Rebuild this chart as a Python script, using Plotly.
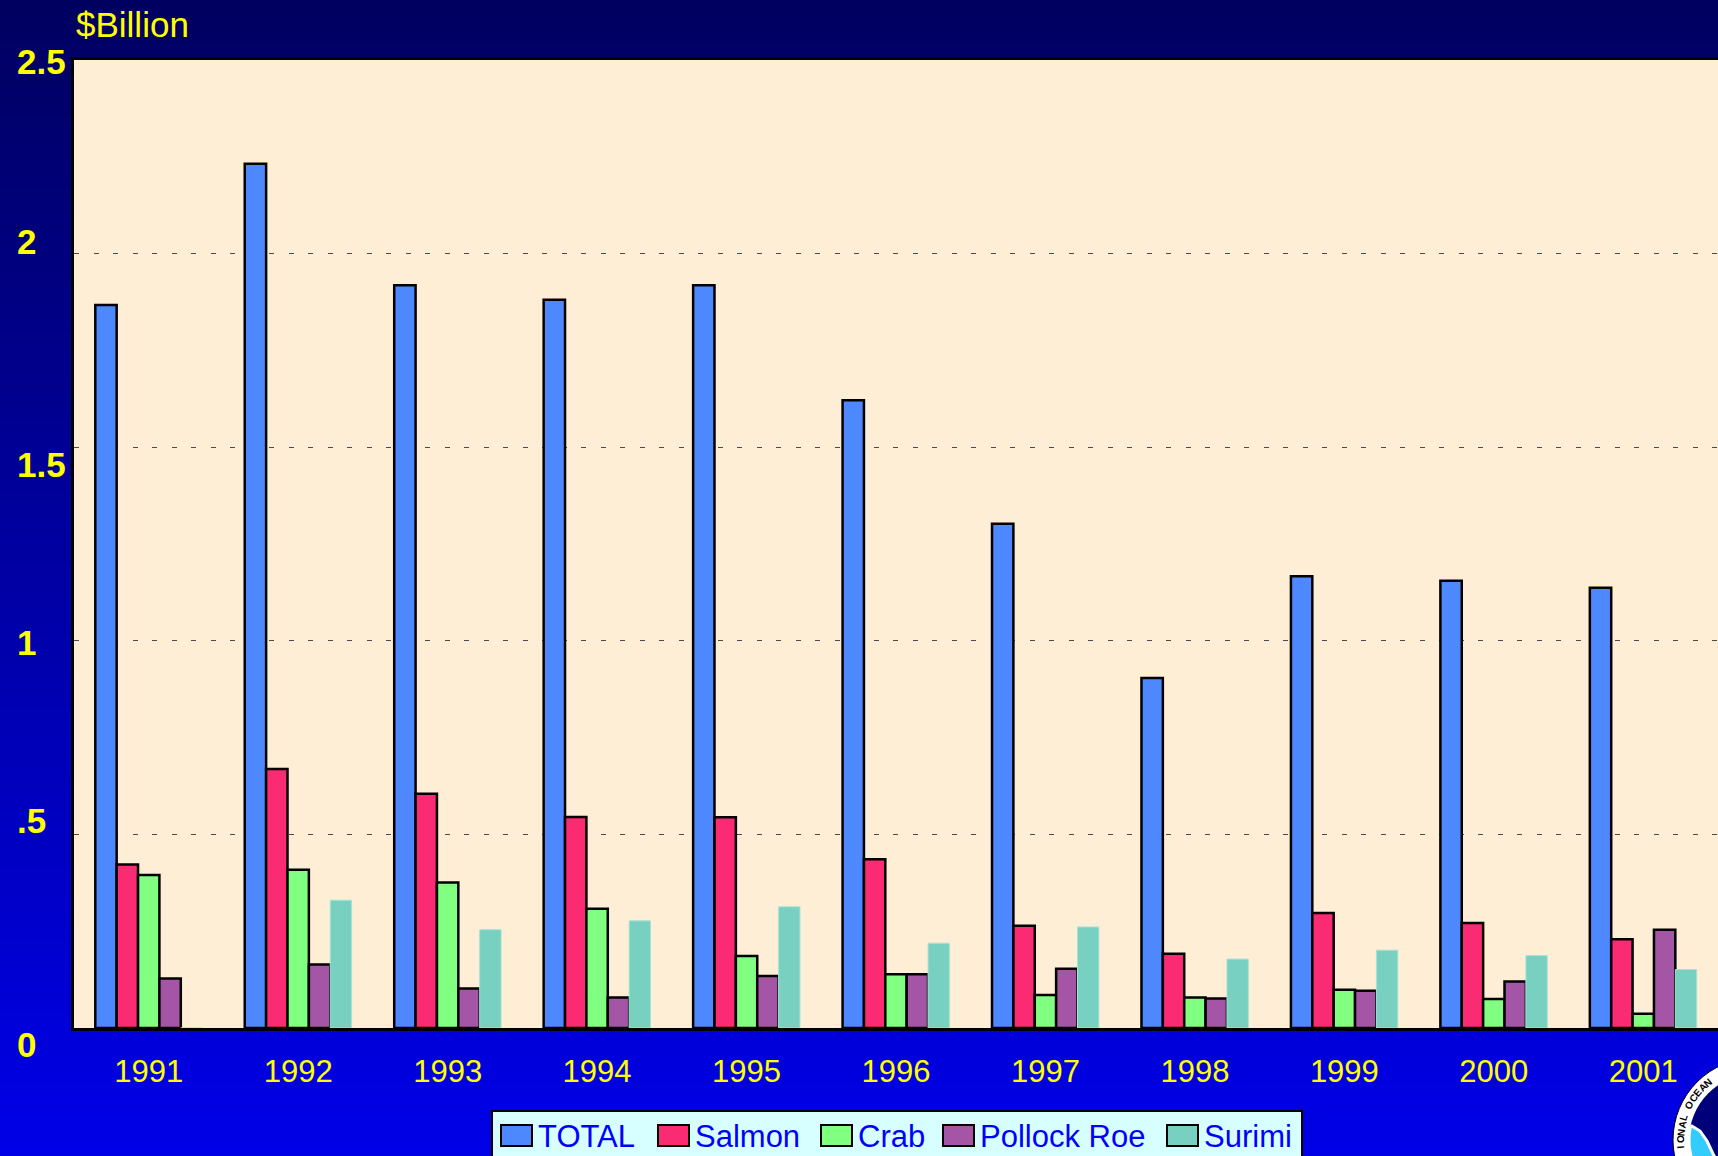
import math
import plotly.graph_objects as go

# ---------------- data ----------------
years = ["1991", "1992", "1993", "1994", "1995", "1996", "1997", "1998", "1999", "2000", "2001"]
series_names = ["TOTAL", "Salmon", "Crab", "Pollock Roe", "Surimi"]
total = [1.867, 2.232, 1.918, 1.881, 1.918, 1.621, 1.302, 0.904, 1.167, 1.155, 1.137]
salmon = [0.422, 0.669, 0.605, 0.545, 0.544, 0.436, 0.264, 0.192, 0.297, 0.271, 0.229]
crab = [0.395, 0.409, 0.376, 0.308, 0.186, 0.139, 0.085, 0.079, 0.099, 0.075, 0.037]
pollock_roe = [0.128, 0.164, 0.102, 0.079, 0.134, 0.139, 0.153, 0.076, 0.096, 0.120, 0.254]
surimi = [0.0, 0.330, 0.254, 0.277, 0.313, 0.219, 0.261, 0.178, 0.201, 0.187, 0.151]
y_tick_vals = [0, 0.5, 1, 1.5, 2, 2.5]
y_tick_text = ["0", ".5", "1", "1.5", "2", "2.5"]
y_title = "$Billion"

series_values = [total, salmon, crab, pollock_roe, surimi]

# ---------------- styles ----------------
W, H = 1718, 1156
ML, MR, MT, MB = 74, 0, 60, 128
PW, PH = W - ML - MR, H - MT - MB
FONT = "Arial, Liberation Sans, sans-serif"
YELLOW = "#FFFF00"
colors = ["#4D88FF", "#FA2A73", "#80FF80", "#A555A5", "#78D0C0"]
line_colors = ["#000000", "#000000", "#000000", "#000000", "#A8E2D8"]
line_widths = [2.5, 2.5, 2.5, 2.5, 1]
PLOT_BG = "#FFEED6"


def px2x(px):
    return (px - ML) / PW


def py2y(py):
    return (H - MB - py) / PH


fig = go.Figure()
for name, vals, c, lc, lw in zip(series_names, series_values, colors, line_colors, line_widths):
    fig.add_trace(go.Bar(x=years, y=vals, name=name, marker=dict(color=c, line=dict(color=lc, width=lw)),
                         showlegend=False))

shapes = []
# background gradient (dark navy at top to bright blue at bottom)
N = 80
top_rgb = (0, 0, 96)
bot_rgb = (0, 0, 232)
for i in range(N):
    ya = H * i / N
    yb = H * (i + 1) / N + 1
    t = (i + 0.5) / N
    col = "rgb(%d,%d,%d)" % tuple(round(a + (b - a) * t) for a, b in zip(top_rgb, bot_rgb))
    shapes.append(dict(type="rect", xref="paper", yref="paper", layer="below",
                       x0=px2x(-2), x1=px2x(W + 2), y0=py2y(yb), y1=py2y(ya),
                       fillcolor=col, line=dict(width=0)))
# plot area background
shapes.append(dict(type="rect", xref="paper", yref="paper", layer="below",
                   x0=0, x1=1, y0=0, y1=1, fillcolor=PLOT_BG, line=dict(width=0)))

# custom legend
legend_box = (492, 1302, 1111)
shapes.append(dict(type="rect", xref="paper", yref="paper", layer="above",
                   x0=px2x(legend_box[0]), x1=px2x(legend_box[1]),
                   y0=py2y(H + 20), y1=py2y(legend_box[2]),
                   fillcolor="#D8FFFF", line=dict(color="#000000", width=2)))
legend_sq_left = [501, 658, 821, 943, 1167]
annotations = []
for name, c, sx in zip(series_names, colors, legend_sq_left):
    shapes.append(dict(type="rect", xref="paper", yref="paper", layer="above",
                       x0=px2x(sx), x1=px2x(sx + 31), y0=py2y(1146), y1=py2y(1125),
                       fillcolor=c, line=dict(color="#000000", width=2)))
    annotations.append(dict(text=name, xref="paper", yref="paper", x=px2x(sx + 35), y=py2y(1136),
                            xanchor="left", yanchor="middle", showarrow=False,
                            font=dict(family=FONT, size=31, color="#0000FF")))

# y tick labels (left-aligned, bold)
label_nudge = [16, -14, 2, 17, -12, 1]
for v, t, nd in zip(y_tick_vals, y_tick_text, label_nudge):
    annotations.append(dict(text=t, xref="paper", yref="y", x=px2x(15), y=v, yshift=-nd,
                            xanchor="left", yanchor="middle", showarrow=False,
                            font=dict(family=FONT, size=35, color=YELLOW, weight="bold")))
# axis title
annotations.append(dict(text=y_title, xref="paper", yref="paper", x=px2x(74), y=py2y(24),
                        xanchor="left", yanchor="middle", showarrow=False,
                        font=dict(family=FONT, size=35, color=YELLOW)))

# NOAA-style emblem in the bottom-right corner (partially off-canvas)
cx, cy, R1, R2 = 1755, 1140, 82, 66


def circ(r, fill, lc=None, lw=0):
    return dict(type="circle", xref="paper", yref="paper", layer="above",
                x0=px2x(cx - r), x1=px2x(cx + r), y0=py2y(cy + r), y1=py2y(cy - r),
                fillcolor=fill, line=dict(color=lc or fill, width=lw))


shapes.append(circ(R1, "#FFFFFF", "#000000", 1))
shapes.append(circ(R2, "#00007A"))
pts = []
for k in range(0, 19):
    th = math.radians(191 - k * 5)
    pts.append((cx + R2 * math.cos(th), cy + R2 * math.sin(th)))
pts += [(1745, 1200), (1726, 1166), (1714, 1156), (1707, 1141), (1700, 1131), (1692, 1126)]
path = "M " + " L ".join("%f,%f" % (px2x(a), py2y(b)) for a, b in pts) + " Z"
shapes.append(dict(type="path", xref="paper", yref="paper", layer="above", path=path,
                   fillcolor="#33CCFF", line=dict(color="#FFFFFF", width=3)))
ring_text = "NATIONAL OCEANIC AND"
for i, ch in enumerate(ring_text):
    if ch == " ":
        continue
    th = 158 + i * 5.6
    r = 74.5
    x = cx + r * math.cos(math.radians(th))
    y = cy + r * math.sin(math.radians(th))
    if x > W - 7 or y > H - 7:
        continue
    annotations.append(dict(text=ch, xref="paper", yref="paper", x=px2x(x), y=py2y(y),
                            xanchor="center", yanchor="middle", showarrow=False, textangle=th + 90,
                            font=dict(family=FONT, size=10, color="#000000", weight="bold")))

fig.update_layout(
    width=W, height=H,
    margin=dict(l=ML, r=MR, t=MT, b=MB, pad=0),
    paper_bgcolor="rgb(0,0,232)",
    plot_bgcolor=PLOT_BG,
    barmode="group", bargap=0.285, bargroupgap=0,
    shapes=shapes, annotations=annotations,
    showlegend=False,
    font=dict(family=FONT),
    xaxis=dict(type="category", range=[-0.5, 10.5], showgrid=False, zeroline=False,
               showline=True, linecolor="#000000", linewidth=3, mirror=True,
               ticks="", tickfont=dict(family=FONT, size=31, color=YELLOW),
               ticklabelstandoff=14, automargin=False),
    yaxis=dict(range=[0, 2.5], tickvals=y_tick_vals, showticklabels=False, ticks="",
               showgrid=True, gridcolor="#4A4A4A", gridwidth=1, griddash="5px,14.5px",
               zeroline=False, showline=True, linecolor="#000000", linewidth=3,
               automargin=False),
)

fig.write_html("out.html", config={"displayModeBar": False},
               post_script="document.body.style.margin='0';document.body.style.overflow='hidden';")
